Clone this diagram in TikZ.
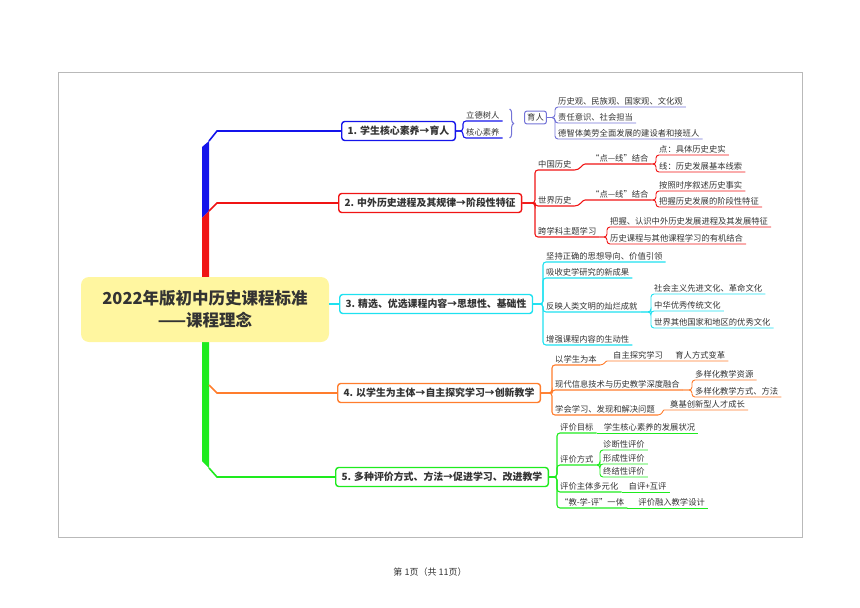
\documentclass[tikz,border=0pt]{standalone}
\usepackage{fontspec}
\newfontfamily\cjk{Noto Sans CJK SC}
\usetikzlibrary{positioning,decorations.pathreplacing}
\definecolor{txt}{RGB}{51,51,51}
\definecolor{cb}{RGB}{20,20,235}
\definecolor{cr}{RGB}{240,20,20}
\definecolor{cc}{RGB}{30,225,240}
\definecolor{co}{RGB}{255,125,45}
\definecolor{cg}{RGB}{30,235,30}
\definecolor{cp}{RGB}{115,115,215}
\definecolor{cy}{RGB}{255,246,160}
\begin{document}
\begin{tikzpicture}[x=1pt, y=-1pt,
  box/.style={draw, rounded corners=3pt, line width=1.4pt, fill=white, text=txt, font=\cjk\bfseries\fontsize{9.9}{11}\selectfont, inner xsep=6pt, minimum height=19pt, anchor=west},
  it/.style={text=txt, font=\cjk\fontsize{8.3}{10}\selectfont, inner xsep=3pt, inner ysep=2pt, anchor=south west},
  ln/.style={line width=1.1pt, rounded corners=3pt},
  sub/.style={line width=0.9pt, rounded corners=3pt},
  br/.style={line width=1.6pt}]
\useasboundingbox (0,0) rectangle (860,608);
\draw[gray!55, line width=0.8pt] (58,72) rectangle (802,537);
\node[text=txt, font=\cjk\fontsize{9}{11}\selectfont] (pg) at (430,572) {第 1页（共 11页）};

\fill[cb] (202,147) -- (209,141) -- (209,211) -- (202,218) -- cycle;
\fill[cr] (202,218) -- (209,211) -- (209,285) -- (202,285) -- cycle;
\fill[cg] (202,335) -- (209,335) -- (209,468) -- (202,461) -- cycle;
\node[fill=cy, rounded corners=8pt, minimum width=248pt, minimum height=65pt, align=center, text=txt, font=\cjk\bfseries\fontsize{16.5}{22}\selectfont] (c) at (205,309.5) {2022年版初中历史课程标准\\——课程理念};

\node[box, draw=cb] (b1) at (341,131) {1. 学生核心素养→育人};
\node[box, draw=cr] (b2) at (338,203) {2. 中外历史进程及其规律→阶段性特征};
\node[box, draw=cc] (b3) at (339,304) {3. 精选、优选课程内容→思想性、基础性};
\node[box, draw=co] (b4) at (337,393) {4. 以学生为主体→自主探究学习→创新教学};
\node[box, draw=cg] (b5) at (335,477) {5. 多种评价方式、方法→促进学习、改进教学};

\coordinate (t1) at (209,141);
\coordinate (t2) at (209,211);
\coordinate (t4) at (209,385);
\coordinate (t5) at (209,468);
\draw[br, cb] (t1) -- ++(8,-10) -- (b1.west);
\draw[br, cr] (t2) -- ++(8,-8) -- (b2.west);
\draw[br, cc] (c.east |- b3.west) -- (b3.west);
\draw[br, co] (t4) -- ++(8,8) -- (b4.west);
\draw[br, cg] (t5) -- ++(8,9) -- (b5.west);

\node[it] (a1) at (463,121) {立德树人};
\node[it] (a2) at (463,138) {核心素养};
\draw[ln, cb] (b1.east) -| (a1.south west) -- (a1.south east);
\draw[ln, cb] (b1.east) -| (a2.south west) -- (a2.south east);
\draw[cp, line width=1pt, decorate, decoration={brace, amplitude=4pt}] ([xshift=7pt]a1.north east) -- ([xshift=7pt]a2.south east);
\node[draw=cp, rounded corners=2pt, line width=1pt, text=txt, font=\cjk\fontsize{8.3}{10}\selectfont, inner sep=2.5pt] (y1) at (535.5,117.5) {育人};
\node[it] (p1) at (555,107) {历史观、民族观、国家观、文化观};
\node[it] (p2) at (555,123) {责任意识、社会担当};
\node[it] (p3) at (555,139) {德智体美劳全面发展的建设者和接班人};
\draw[sub, cp] (y1.east) -| (p1.south west) -- (p1.south east);
\draw[sub, cp] (y1.east) -| (p2.south west) -- (p2.south east);
\draw[sub, cp] (y1.east) -| (p3.south west) -- (p3.south east);

\node[it] (r1) at (535,170) {中国历史};
\node[it] (r2) at (535,206) {世界历史};
\node[it] (r3) at (535,237) {跨学科主题学习};
\draw[ln, cr] (b2.east) -| (r1.south west) -- (r1.south east);
\draw[ln, cr] (b2.east) -| (r2.south west) -- (r2.south east);
\draw[ln, cr] (b2.east) -| (r3.south west) -- (r3.south east);
\node[it] (r11) at (588,164) {“点—线”结合};
\node[it] (r21) at (588,200) {“点—线”结合};
\draw[ln, cr] (r1.south east) to[out=0, in=180] (r11.south west) -- (r11.south east);
\draw[ln, cr] (r2.south east) to[out=0, in=180] (r21.south west) -- (r21.south east);
\node[it] (r111) at (656,155) {点：具体历史史实};
\node[it] (r112) at (656,172) {线：历史发展基本线索};
\node[it] (r211) at (656,191) {按照时序叙述历史事实};
\node[it] (r212) at (656,207) {把握历史发展的阶段性特征};
\draw[sub, cr] (r11.south east) -| (r111.south west) -- (r111.south east);
\draw[sub, cr] (r11.south east) -| (r112.south west) -- (r112.south east);
\draw[sub, cr] (r21.south east) -| (r211.south west) -- (r211.south east);
\draw[sub, cr] (r21.south east) -| (r212.south west) -- (r212.south east);
\node[it] (r31) at (607,227) {把握、认识中外历史发展进程及其发展特征};
\node[it] (r32) at (607,244) {历史课程与其他课程学习的有机结合};
\draw[sub, cr] (r3.south east) -| (r31.south west) -- (r31.south east);
\draw[sub, cr] (r3.south east) -| (r32.south west) -- (r32.south east);

\node[it] (s1) at (543,262) {坚持正确的思想导向、价值引领};
\node[it] (s2) at (543,278) {吸收史学研究的新成果};
\node[it] (s3) at (543,312) {反映人类文明的灿烂成就};
\node[it] (s4) at (543,345) {增强课程内容的生动性};
\draw[ln, cc] (b3.east) -| (s1.south west) -- (s1.south east);
\draw[ln, cc] (b3.east) -| (s2.south west) -- (s2.south east);
\draw[ln, cc] (b3.east) -| (s3.south west) -- (s3.south east);
\draw[ln, cc] (b3.east) -| (s4.south west) -- (s4.south east);
\node[it] (s31) at (651,294) {社会主义先进文化、革命文化};
\node[it] (s32) at (651,311) {中华优秀传统文化};
\node[it] (s33) at (651,328) {世界其他国家和地区的优秀文化};
\draw[sub, cc] (s3.south east) -| (s31.south west) -- (s31.south east);
\draw[sub, cc] (s3.south east) -| (s32.south west) -- (s32.south east);
\draw[sub, cc] (s3.south east) -| (s33.south west) -- (s33.south east);

\node[it] (o1) at (552,365) {以学生为本};
\node[it] (o2) at (552,390) {现代信息技术与历史教学深度融合};
\node[it] (o3) at (552,415) {学会学习、发现和解决问题};
\draw[ln, co] (b4.east) -| (o1.south west) -- (o1.south east);
\draw[ln, co] (b4.east) -| (o2.south west) -- (o2.south east);
\draw[ln, co] (b4.east) -| (o3.south west) -- (o3.south east);
\node[it] (o11) at (610,361) {自主探究学习};
\node[it, right=6pt of o11.south east, anchor=south west] (o12) {育人方式变革};
\draw[sub, co] (o1.south east) to[out=0, in=180] (o11.south west) -- (o12.south east);
\node[it] (o21) at (692,380) {多样化教学资源};
\node[it] (o22) at (692,397) {多样化教学方式、方法};
\draw[sub, co] (o2.south east) -| (o21.south west) -- (o21.south east);
\draw[sub, co] (o2.south east) -| (o22.south west) -- (o22.south east);
\node[it] (o31) at (667,410) {奠基创新型人才成长};
\draw[sub, co] (o3.south east) to[out=0, in=180] (o31.south west) -- (o31.south east);

\node[it] (g1) at (557,433) {评价目标};
\node[it] (g2) at (557,465) {评价方式};
\node[it] (g3) at (557,492) {评价主体多元化};
\node[it] (g4) at (557,508) {“教-学-评”一体};
\draw[ln, cg] (b5.east) -| (g1.south west) -- (g1.south east);
\draw[ln, cg] (b5.east) -| (g2.south west) -- (g2.south east);
\draw[ln, cg] (b5.east) -| (g3.south west) -- (g3.south east);
\draw[ln, cg] (b5.east) -| (g4.south west) -- (g4.south east);
\node[it, right=4pt of g1.south east, anchor=south west] (g11) {学生核心素养的发展状况};
\draw[sub, cg] (g1.south east) -- (g11.south east);
\node[it] (g21) at (600,450) {诊断性评价};
\node[it] (g22) at (600,464) {形成性评价};
\node[it] (g23) at (600,477) {终结性评价};
\draw[sub, cg] (g2.south east) -| (g21.south west) -- (g21.south east);
\draw[sub, cg] (g2.south east) -| (g22.south west) -- (g22.south east);
\draw[sub, cg] (g2.south east) -| (g23.south west) -- (g23.south east);
\node[it, right=4pt of g3.south east, anchor=south west] (g31) {自评+互评};
\draw[sub, cg] (g3.south east) -- (g31.south east);
\node[it, right=8pt of g4.south east, anchor=south west] (g41) {评价融入教学设计};
\draw[sub, cg] (g4.south east) -- (g41.south east);
\end{tikzpicture}
\end{document}
